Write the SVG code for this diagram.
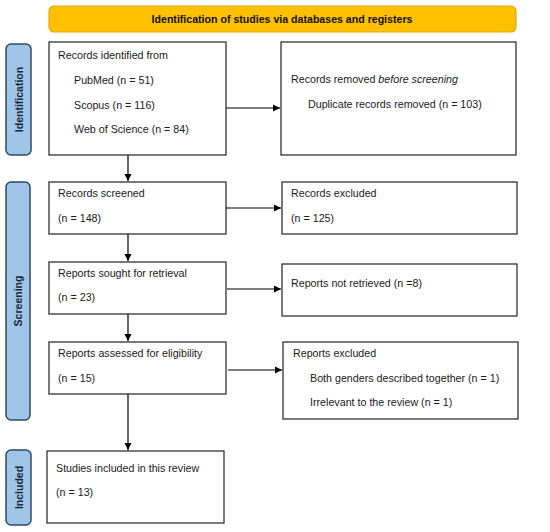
<svg xmlns="http://www.w3.org/2000/svg" width="550" height="532" viewBox="0 0 550 532">
<defs>
<marker id="ah" markerWidth="8" markerHeight="8" refX="7" refY="4" orient="auto" markerUnits="userSpaceOnUse">
<path d="M0,0.5 L7,4 L0,7.5 Z" fill="#000"/>
</marker>
<style>
.box{fill:#fff;stroke:#222;stroke-width:1.2}
.side{fill:#9fc5e8;stroke:#2e4a66;stroke-width:1.5}
.t{font-family:"Liberation Sans",Arial,sans-serif;font-size:10.7px;fill:#1a1a1a}
.st{font-family:"Liberation Sans",Arial,sans-serif;font-size:10.5px;font-weight:bold;fill:#1a2a3a}
.bt{font-family:"Liberation Sans",Arial,sans-serif;font-size:10.6px;font-weight:bold;fill:#111}
.c{stroke:#000;stroke-width:1.2;fill:none;marker-end:url(#ah)}
</style>
</defs>
<rect width="550" height="532" fill="#fff"/>
<g id="banner">
<rect x="49" y="6" width="467" height="26" rx="5" fill="#ffc000" stroke="#e0aa10" stroke-width="1.2"/>
<text class="bt" x="282" y="22.5" text-anchor="middle">Identification of studies via databases and registers</text>
</g>
<g id="side-identification">
<rect class="side" x="6" y="44" width="25" height="111" rx="5"/>
<text class="st" transform="translate(22.5,99.5) rotate(-90)" text-anchor="middle">Identification</text>
</g>
<g id="side-screening">
<rect class="side" x="6" y="182" width="24" height="238" rx="5"/>
<text class="st" transform="translate(22,301) rotate(-90)" text-anchor="middle">Screening</text>
</g>
<g id="side-included">
<rect class="side" x="6" y="450" width="25" height="75" rx="5"/>
<text class="st" transform="translate(22.5,487.5) rotate(-90)" text-anchor="middle">Included</text>
</g>
<g id="records-identified">
<rect class="box" x="49" y="42" width="177" height="113"/>
<text class="t" x="58" y="59">Records identified from</text>
<text class="t" x="74" y="84">PubMed (n = 51)</text>
<text class="t" x="74" y="109">Scopus (n = 116)</text>
<text class="t" x="74" y="133">Web of Science (n = 84)</text>
</g>
<g id="records-removed">
<rect class="box" x="281" y="42" width="235" height="113"/>
<text class="t" x="291" y="83">Records removed <tspan font-style="italic">before screening</tspan></text>
<text class="t" x="308" y="108">Duplicate records removed (n = 103)</text>
</g>
<g id="records-screened">
<rect class="box" x="49" y="182" width="177" height="52"/>
<text class="t" x="58" y="197">Records screened</text>
<text class="t" x="58" y="222">(n = 148)</text>
</g>
<g id="records-excluded">
<rect class="box" x="282" y="182" width="235" height="52"/>
<text class="t" x="291" y="197">Records excluded</text>
<text class="t" x="291" y="222">(n = 125)</text>
</g>
<g id="reports-sought">
<rect class="box" x="49" y="262" width="177" height="52"/>
<text class="t" x="58" y="277">Reports sought for retrieval</text>
<text class="t" x="58" y="301">(n = 23)</text>
</g>
<g id="reports-not-retrieved">
<rect class="box" x="282" y="264" width="235" height="52"/>
<text class="t" x="291" y="287">Reports not retrieved (n =8)</text>
</g>
<g id="reports-assessed">
<rect class="box" x="49" y="342" width="177" height="52"/>
<text class="t" x="58" y="357">Reports assessed for eligibility</text>
<text class="t" x="58" y="382">(n = 15)</text>
</g>
<g id="reports-excluded">
<rect class="box" x="283" y="342" width="235" height="77"/>
<text class="t" x="293" y="357">Reports excluded</text>
<text class="t" x="310" y="382">Both genders described together (n = 1)</text>
<text class="t" x="310" y="406">Irrelevant to the review (n = 1)</text>
</g>
<g id="studies-included">
<rect class="box" x="47" y="451" width="177" height="72"/>
<text class="t" x="56" y="472">Studies included in this review</text>
<text class="t" x="56" y="496">(n = 13)</text>
</g>
<g id="connectors">
<line class="c" x1="226" y1="108" x2="280" y2="108"/>
<line class="c" x1="128" y1="155" x2="128" y2="181"/>
<line class="c" x1="226" y1="208" x2="281" y2="208"/>
<line class="c" x1="128" y1="234" x2="128" y2="261"/>
<line class="c" x1="227" y1="289" x2="281" y2="289"/>
<line class="c" x1="128" y1="314" x2="128" y2="341"/>
<line class="c" x1="228" y1="370" x2="282" y2="370"/>
<line class="c" x1="128" y1="394" x2="128" y2="450"/>
</g>
</svg>
